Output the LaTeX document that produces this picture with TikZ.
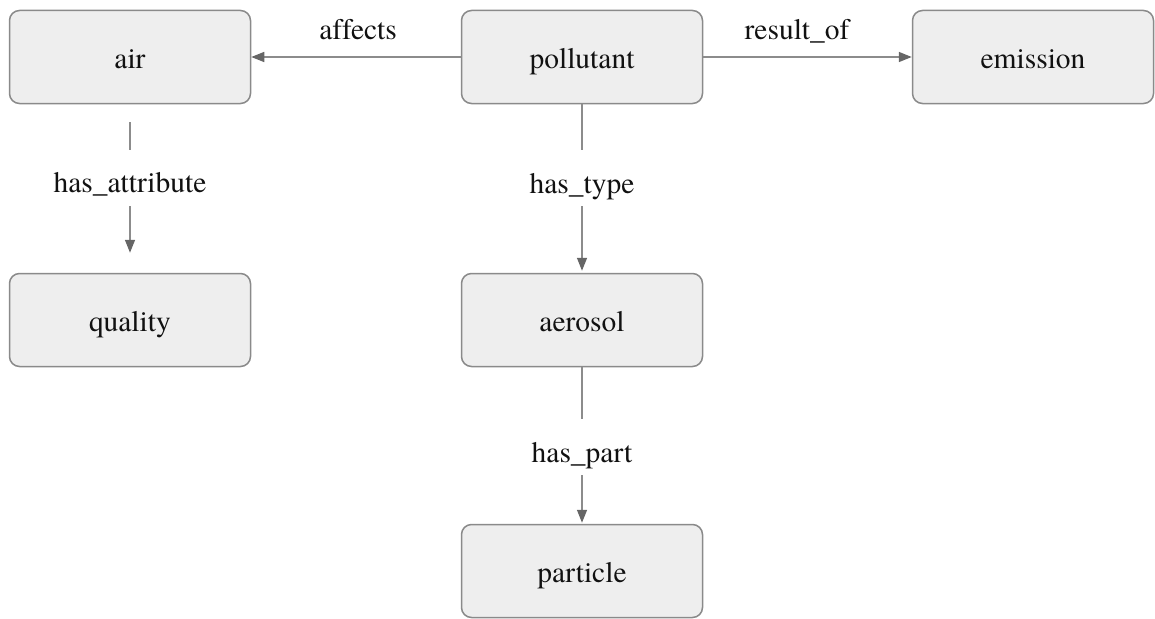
\documentclass[tikz,border=0pt]{standalone}
\usepackage{fontspec}
\setmainfont{texgyretermes-regular.otf}[Ligatures=NoCommon]
\usetikzlibrary{arrows.meta}

\definecolor{boxfill}{HTML}{EEEEEE}
\definecolor{boxline}{HTML}{8A8A8A}
\definecolor{edgeline}{HTML}{8C8C8C}
\definecolor{tipcol}{HTML}{666666}
\definecolor{txt}{HTML}{111111}

\tikzset{
  every node/.style={font=\fontsize{29.5}{35}\selectfont, text=txt},
  concept/.style={draw=boxline, fill=boxfill, line width=1.5pt, rounded corners=10pt,
    minimum width=241pt, minimum height=93pt, inner sep=0pt,
    text height=29pt, text depth=7pt},
  relation/.style={draw=edgeline, line width=1.5pt,
    -{Triangle[length=13pt, width=10pt, color=tipcol]}},
  hlabel/.style={anchor=south, inner xsep=2pt, inner ysep=10pt,
    text height=20pt, text depth=7pt},
  vlabel/.style={fill=white, inner xsep=4pt, inner ysep=1pt,
    text height=42pt, text depth=12pt}
}

\begin{document}
\begin{tikzpicture}[x=1pt, y=-1pt]
  \useasboundingbox (0,0) rectangle (1155,618);

  % concepts
  \node[concept] (air)       at (130,57)  {air};
  \node[concept] (pollutant) at (582,57)  {pollutant};
  \node[concept] (emission)  at (1033,57) {emission};
  \node[concept] (quality)   at (130,320) {quality};
  \node[concept] (aerosol)   at (582,320) {aerosol};
  \node[concept] (particle)  at (582,571) {particle};

  % relations
  \draw[relation] (pollutant) -- node[hlabel, pos=0.49] {affects} (air);
  \draw[relation] (pollutant) -- node[hlabel, pos=0.45] {result\_of} (emission);
  \draw[relation, shorten <=18pt, shorten >=20pt] (air) --
    node[vlabel, pos=0.435] {has\_attribute} (quality);
  \draw[relation, shorten >=2pt] (pollutant) --
    node[vlabel, pos=0.438] {has\_type} (aerosol);
  \draw[relation, shorten >=1pt] (aerosol) --
    node[vlabel, pos=0.51] {has\_part} (particle);
\end{tikzpicture}
\end{document}
